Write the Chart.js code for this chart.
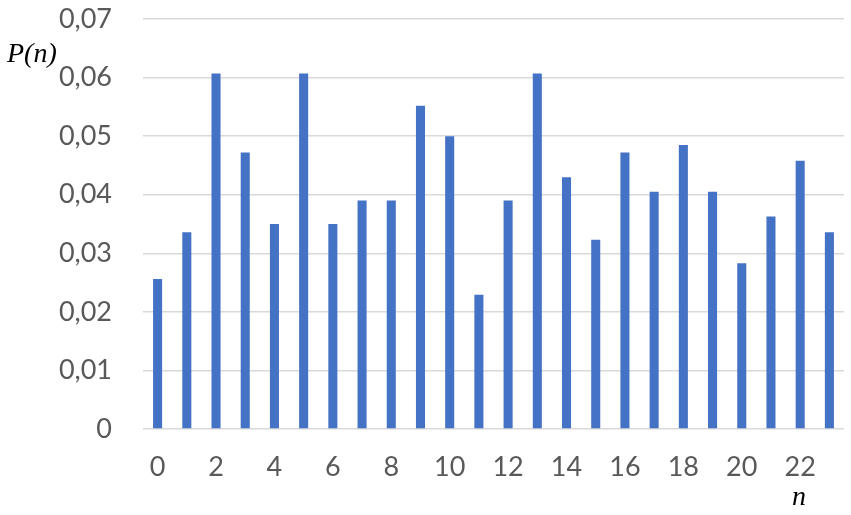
<!DOCTYPE html>
<html lang="pt-BR">
<head>
    <meta charset="UTF-8">
    <title>P(n)</title>
    <script src="https://cdn.jsdelivr.net/npm/chart.js@4.4.1/dist/chart.umd.min.js"></script>
    <style>
        body { margin: 0; background: #fff; }
        .wrap { position: relative; width: 851px; height: 515px; }
        .eixo {
            position: absolute;
            font-family: "Liberation Serif", "DejaVu Serif", serif;
            font-style: italic;
            font-size: 28px;
            color: #000;
            line-height: 1;
        }
        #rotuloY { left: 7px; top: 39px; }
        #rotuloX { left: 792px; top: 482px; }
    </style>
</head>
<body>
    <div class="wrap">
        <canvas id="grafico" width="851" height="515"></canvas>
        <div class="eixo" id="rotuloY">P(n)</div>
        <div class="eixo" id="rotuloX">n</div>
    </div>

    <script>
        // valores
        const categorias = ['0','1','2','3','4','5','6','7','8','9','10','11','12','13','14','15','16','17','18','19','20','21','22','23'];
        const probabilidades = [0.0256, 0.0336, 0.0607, 0.0472, 0.0350, 0.0607, 0.0350, 0.0390, 0.0390, 0.0552, 0.0500, 0.0229,
                                0.0390, 0.0607, 0.0430, 0.0323, 0.0472, 0.0405, 0.0485, 0.0405, 0.0283, 0.0363, 0.0458, 0.0336];
        const ticksY = [0, 0.01, 0.02, 0.03, 0.04, 0.05, 0.06, 0.07];

        const fonteTicks = { family: 'Lato', size: 27 };

        const ctx = document.getElementById('grafico').getContext('2d');
        new Chart(ctx, {
            type: 'bar',
            data: {
                labels: categorias,
                datasets: [{
                    data: probabilidades,
                    backgroundColor: '#4472c4',
                    barPercentage: 0.31,
                    categoryPercentage: 1
                }]
            },
            options: {
                responsive: false,
                animation: false,
                layout: { padding: { top: 19, right: 7, bottom: 0, left: 0 } },
                plugins: { legend: { display: false }, tooltip: { enabled: false } },
                scales: {
                    x: {
                        grid: { display: false, drawTicks: false },
                        border: { display: false },
                        ticks: {
                            autoSkip: false,
                            maxRotation: 0,
                            padding: 22,
                            color: '#595959',
                            font: fonteTicks,
                            callback: function(v, i) { return i % 2 === 0 ? categorias[i] : ''; }
                        },
                        afterFit: function(s) { s.height = 86; s.paddingLeft = 0; s.paddingRight = 0; }
                    },
                    y: {
                        min: 0,
                        max: 0.07,
                        grid: { color: '#d9d9d9', lineWidth: 1.5, drawTicks: false },
                        border: { display: false },
                        afterBuildTicks: function(s) { s.ticks = ticksY.map(v => ({ value: v })); },
                        ticks: {
                            padding: 31,
                            color: '#595959',
                            font: fonteTicks,
                            callback: function(v) { return v === 0 ? '0' : v.toFixed(2).replace('.', ','); }
                        },
                        afterFit: function(s) { s.width = 143; s.paddingTop = 0; s.paddingBottom = 0; }
                    }
                }
            }
        });
    </script>
</body>
</html>
